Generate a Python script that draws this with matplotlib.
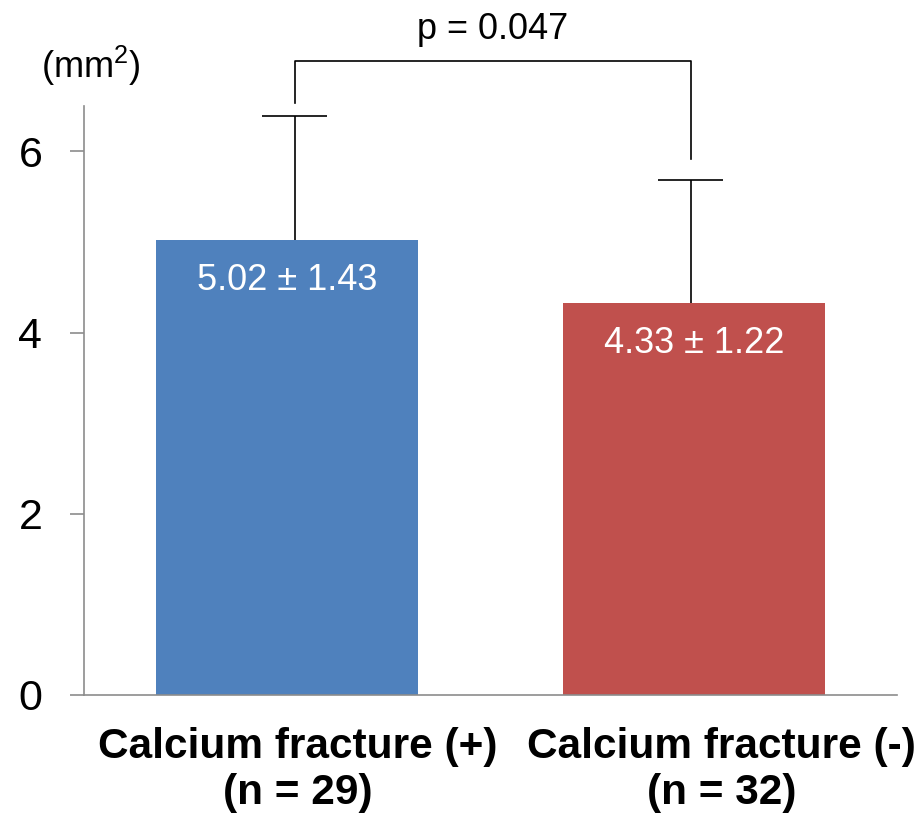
import matplotlib
matplotlib.use("Agg")
import matplotlib.pyplot as plt
import matplotlib.transforms as mtransforms

plt.rcParams['font.family'] = ['Liberation Sans', 'DejaVu Sans']
plt.rcParams['mathtext.fontset'] = 'custom'
plt.rcParams['mathtext.rm'] = 'Liberation Sans'
plt.rcParams['mathtext.it'] = 'Liberation Sans'
plt.rcParams['mathtext.default'] = 'regular'

# ---- data ----
categories = ["Calcium fracture (+)\n(n = 29)", "Calcium fracture (-)\n(n = 32)"]
means = [5.02, 4.33]
errs_drawn = [1.37, 1.35]          # upper error bar lengths as drawn
bar_labels = ["5.02 ± 1.43", "4.33 ± 1.22"]
yticks = [0, 2, 4, 6]
p_text = "p = 0.047"
unit_text = "(mm$^{2}$)"

colors = ["#4F81BD", "#C0504D"]
err_offsets = [0.019, -0.007]
label_offsets = [0.026, 0.069]
bracket_gaps = [0.14, 0.235]
bracket_top = 7.0

fig = plt.figure(figsize=(9.23, 8.16), dpi=100)
ax = fig.add_axes([84/923, 1-695/816, (897-84)/923, (695-106)/816])

x = list(range(len(means)))
ax.bar(x, means, width=0.645, color=colors, zorder=2)

# error bars (upper only)
ex = [xi + o for xi, o in zip(x, err_offsets)]
tops = [m + e for m, e in zip(means, errs_drawn)]
ax.vlines(ex, means, tops, color='black', lw=1.2, zorder=3)
ax.hlines(tops, [v - 0.08 for v in ex], [v + 0.08 for v in ex], color='black', lw=1.2, zorder=3)

# significance bracket
ax.plot([ex[0], ex[0], ex[1], ex[1]],
        [tops[0] + bracket_gaps[0], bracket_top, bracket_top, tops[1] + bracket_gaps[1]],
        color='black', lw=1.2, clip_on=False)
ax.text((ex[0] + ex[1]) / 2, bracket_top + 0.24, p_text, ha='center', va='baseline',
        fontsize=26, clip_on=False)

# bar value labels
for xi, m, lab in zip(x, means, bar_labels):
    ax.text(xi, m - 0.45, lab, ha='center', va='center', color='white', fontsize=26)

ax.set_xlim(-0.5, 1.5)
ax.set_ylim(0, 6.5)
ax.set_yticks(yticks)
ax.set_yticklabels([str(t) for t in yticks], fontsize=31)
ax.tick_params(axis='y', direction='out', length=10, width=1.2, color='#8c8c8c', pad=20)
ax.set_xticks([])

for s in ['top', 'right']:
    ax.spines[s].set_visible(False)
for s in ['left', 'bottom']:
    ax.spines[s].set_color('#8c8c8c')
    ax.spines[s].set_linewidth(1.2)

trans = mtransforms.blended_transform_factory(ax.transData, ax.transAxes)
for xi, o, lab in zip(x, label_offsets, categories):
    ax.text(xi + o, -0.055, lab, transform=trans, ha='center', va='top',
            fontsize=30.5, fontweight='bold', linespacing=1.17)

fig.text(91/923, 1-66/816, unit_text, ha='center', va='center', fontsize=26)

fig.savefig("out.png", dpi=100)
